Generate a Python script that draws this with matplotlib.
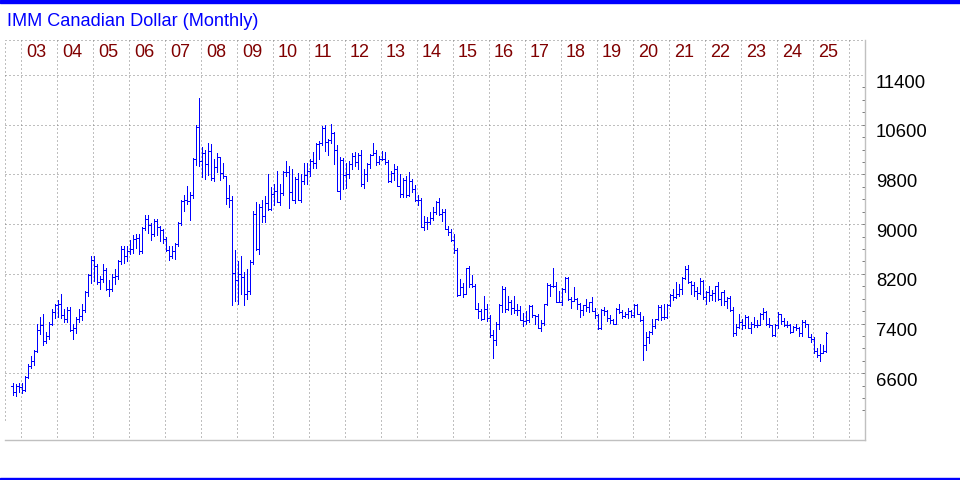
import matplotlib
matplotlib.use("Agg")
import matplotlib.pyplot as plt
from matplotlib.patches import Rectangle
import matplotlib.transforms as mtransforms

plt.rcParams['font.family'] = ['Liberation Sans', 'DejaVu Sans']

title = "IMM Canadian Dollar (Monthly)"
year_labels = ["03", "04", "05", "06", "07", "08", "09", "10", "11", "12", "13", "14",
               "15", "16", "17", "18", "19", "20", "21", "22", "23", "24", "25"]
price_labels = [11400, 10600, 9800, 9000, 8200, 7400, 6600]
first_month = "2002-09"

opens = [
    6400, 6300, 6400, 6370,
    6330, 6540, 6720, 6800, 6960, 7300, 7380, 7120, 7200, 7390, 7580, 7690,
    7720, 7540, 7480, 7620, 7290, 7320, 7470, 7520, 7620, 7900, 8180, 8420,
    8320, 8060, 8110, 8260, 7950, 7950, 8150, 8160, 8400, 8600, 8480, 8570,
    8600, 8760, 8770, 8570, 8940, 9080, 8980, 8840, 9050, 8950, 8900, 8760,
    8580, 8480, 8560, 8680, 9020, 9370, 9390, 9370, 9470, 10050, 10560, 10020,
    10150, 9960, 10180, 9740, 9920, 10080, 9820, 9770, 9420, 9390, 8210, 8100,
    8200, 8150, 7880, 7930, 8390, 9160, 8600, 9280, 9130, 9340, 9240, 9480,
    9540, 9350, 9500, 9840, 9840, 9510, 9390, 9720, 9390, 9700, 9790, 9850,
    10010, 9990, 10290, 10300, 10540, 10320, 10360, 10460, 10190, 9530, 10030, 9790,
    9800, 9970, 10090, 10000, 10110, 9650, 9810, 9960, 10120, 10150, 10000, 10050,
    10040, 10000, 9690, 9820, 9890, 9620, 9480, 9710, 9470, 9690, 9560, 9390,
    9380, 8960, 9030, 9030, 9100, 9200, 9350, 9160, 9190, 8920, 8870, 8740,
    8590, 7860, 7990, 7880, 8290, 8030, 8000, 7640, 7600, 7480, 7640, 7490,
    7210, 7130, 7390, 7700, 7960, 7630, 7740, 7650, 7620, 7620, 7460, 7440,
    7450, 7680, 7530, 7520, 7320, 7410, 7710, 8020, 8010, 8010, 7750, 7750,
    7960, 8130, 7800, 7760, 7800, 7720, 7610, 7690, 7670, 7740, 7600, 7530,
    7330, 7610, 7600, 7490, 7460, 7400, 7640, 7580, 7520, 7550, 7600, 7530,
    7700, 7560, 7460, 7060, 7180, 7260, 7360, 7470, 7670, 7500, 7500, 7700,
    7860, 7820, 7870, 7960, 8140, 8280, 8070, 8020, 7920, 7890, 8080, 7820,
    7900, 7860, 7890, 8000, 7790, 7900, 7770, 7810, 7610, 7240, 7340, 7430,
    7380, 7510, 7330, 7400, 7380, 7370, 7550, 7590, 7400, 7370, 7220, 7370,
    7560, 7440, 7370, 7380, 7270, 7340, 7320, 7250, 7420, 7400, 7190, 7150,
    6960, 6890, 6930, 6960,
]
highs = [
    6440, 6420, 6450, 6440,
    6560, 6750, 6870, 6980, 7400, 7500, 7550, 7260, 7430, 7640, 7720, 7780,
    7880, 7630, 7670, 7660, 7400, 7500, 7640, 7710, 7920, 8200, 8490, 8490,
    8360, 8160, 8350, 8290, 8100, 8190, 8270, 8430, 8640, 8650, 8640, 8740,
    8820, 8840, 8840, 8960, 9140, 9140, 9020, 9080, 9080, 8970, 8920, 8800,
    8650, 8650, 8700, 9040, 9380, 9470, 9620, 9510, 10070, 10600, 11030, 10240,
    10190, 10300, 10290, 10040, 10150, 10080, 9990, 9770, 9630, 9450, 8580, 8410,
    8480, 8230, 8270, 8420, 9210, 9350, 9330, 9380, 9450, 9810, 9600, 9650,
    9860, 9640, 9860, 10020, 9930, 9880, 9760, 9820, 9800, 9990, 9990, 10050,
    10160, 10300, 10340, 10580, 10600, 10370, 10610, 10480, 10270, 10080, 10070, 9990,
    10010, 10150, 10160, 10140, 10190, 9890, 9990, 10130, 10300, 10200, 10100, 10180,
    10160, 10030, 9850, 9970, 9940, 9800, 9740, 9780, 9840, 9730, 9630, 9470,
    9420, 9130, 9110, 9190, 9280, 9370, 9420, 9240, 9250, 8970, 8920, 8840,
    8610, 8120, 8050, 8300, 8330, 8180, 8040, 7730, 7640, 7840, 7710, 7540,
    7300, 7420, 7720, 8010, 7990, 7840, 7780, 7840, 7720, 7680, 7570, 7600,
    7690, 7700, 7540, 7550, 7450, 7720, 8050, 8030, 8300, 8070, 7920, 7970,
    8150, 8150, 7830, 7990, 7810, 7730, 7700, 7800, 7750, 7830, 7650, 7550,
    7630, 7660, 7620, 7530, 7480, 7650, 7720, 7610, 7590, 7650, 7620, 7710,
    7720, 7580, 7520, 7260, 7280, 7480, 7480, 7690, 7700, 7710, 7720, 7880,
    7960, 8060, 8040, 8150, 8330, 8340, 8080, 8060, 7990, 8130, 8100, 7920,
    8000, 7940, 8010, 8060, 7900, 7940, 7820, 7840, 7660, 7400, 7550, 7470,
    7540, 7520, 7420, 7510, 7460, 7570, 7650, 7600, 7490, 7370, 7400, 7580,
    7560, 7490, 7440, 7400, 7360, 7390, 7350, 7450, 7460, 7400, 7230, 7180,
    7000, 7070, 7050, 7270,
]
lows = [
    6250, 6240, 6290, 6280,
    6320, 6520, 6680, 6740, 6940, 7230, 7050, 7080, 7150, 7370, 7490, 7510,
    7490, 7420, 7420, 7280, 7150, 7240, 7430, 7450, 7580, 7850, 8050, 8090,
    8030, 7950, 8070, 7940, 7850, 7930, 8030, 8120, 8350, 8380, 8400, 8520,
    8540, 8620, 8520, 8530, 8910, 8860, 8750, 8810, 8830, 8720, 8690, 8570,
    8430, 8450, 8440, 8650, 8990, 9210, 9320, 9060, 9420, 9950, 9930, 9760,
    9730, 9790, 9710, 9700, 9840, 9710, 9740, 9330, 9280, 7700, 7760, 7720,
    7880, 7700, 7800, 7870, 8350, 8590, 8520, 9040, 9040, 9230, 9230, 9300,
    9350, 9300, 9470, 9780, 9260, 9380, 9340, 9390, 9350, 9640, 9650, 9770,
    9910, 9900, 10050, 10270, 10170, 10120, 10300, 9960, 9530, 9410, 9570, 9580,
    9750, 9890, 9940, 9880, 9620, 9580, 9700, 9910, 10110, 9950, 9970, 10030,
    9970, 9670, 9680, 9710, 9630, 9440, 9440, 9440, 9450, 9520, 9370, 9300,
    8960, 8910, 8920, 9000, 9060, 9170, 9150, 9050, 8920, 8820, 8720, 8540,
    7840, 7860, 7820, 7880, 7990, 7990, 7640, 7490, 7450, 7480, 7440, 7180,
    6850, 7050, 7310, 7590, 7580, 7620, 7550, 7570, 7530, 7450, 7360, 7400,
    7430, 7500, 7400, 7320, 7280, 7370, 7700, 7850, 7990, 7750, 7760, 7700,
    7900, 7780, 7650, 7760, 7630, 7500, 7530, 7600, 7580, 7600, 7490, 7310,
    7310, 7530, 7440, 7410, 7390, 7390, 7570, 7490, 7500, 7490, 7510, 7510,
    7550, 7440, 6820, 6980, 7080, 7230, 7320, 7450, 7450, 7480, 7490, 7680,
    7780, 7810, 7850, 7880, 8120, 8050, 7880, 7840, 7800, 7880, 7800, 7720,
    7770, 7780, 7770, 7780, 7690, 7700, 7650, 7600, 7200, 7210, 7330, 7310,
    7330, 7330, 7240, 7340, 7340, 7370, 7480, 7370, 7350, 7200, 7200, 7330,
    7390, 7360, 7340, 7240, 7270, 7290, 7200, 7200, 7340, 7190, 7100, 6920,
    6860, 6790, 6930, 6940,
]
closes = [
    6300, 6400, 6370, 6330,
    6540, 6720, 6800, 6960, 7300, 7380, 7120, 7200, 7390, 7580, 7690, 7720,
    7540, 7480, 7620, 7290, 7320, 7470, 7520, 7620, 7900, 8180, 8420, 8320,
    8060, 8110, 8260, 7950, 7950, 8150, 8160, 8400, 8600, 8480, 8570, 8600,
    8760, 8770, 8570, 8940, 9080, 8980, 8840, 9050, 8950, 8900, 8760, 8580,
    8480, 8560, 8680, 9020, 9370, 9390, 9370, 9470, 10050, 10560, 10020, 10150,
    9960, 10180, 9740, 9920, 10080, 9820, 9770, 9420, 9390, 8210, 8100, 8200,
    8150, 7880, 7930, 8390, 9160, 8600, 9280, 9130, 9340, 9240, 9480, 9540,
    9350, 9500, 9840, 9840, 9510, 9390, 9720, 9390, 9700, 9790, 9850, 10010,
    9990, 10290, 10300, 10540, 10320, 10360, 10460, 10190, 9530, 10030, 9790, 9800,
    9970, 10090, 10000, 10110, 9650, 9810, 9960, 10120, 10150, 10000, 10050, 10040,
    10000, 9690, 9820, 9890, 9620, 9480, 9710, 9470, 9690, 9560, 9390, 9380,
    8960, 9030, 9030, 9100, 9200, 9350, 9160, 9190, 8920, 8870, 8740, 8590,
    7860, 7990, 7880, 8290, 8030, 8000, 7640, 7600, 7480, 7640, 7490, 7210,
    7130, 7390, 7700, 7960, 7630, 7740, 7650, 7620, 7620, 7460, 7440, 7450,
    7680, 7530, 7520, 7320, 7410, 7710, 8020, 8010, 8010, 7750, 7750, 7960,
    8130, 7800, 7760, 7800, 7720, 7610, 7690, 7670, 7740, 7600, 7530, 7330,
    7610, 7600, 7490, 7460, 7400, 7640, 7580, 7520, 7550, 7600, 7530, 7700,
    7560, 7460, 7060, 7180, 7260, 7360, 7470, 7670, 7500, 7500, 7700, 7860,
    7820, 7870, 7960, 8140, 8280, 8070, 8020, 7920, 7890, 8080, 7820, 7900,
    7860, 7890, 8000, 7790, 7900, 7770, 7810, 7610, 7240, 7340, 7430, 7380,
    7510, 7330, 7400, 7380, 7370, 7550, 7590, 7400, 7370, 7220, 7370, 7560,
    7440, 7370, 7380, 7270, 7340, 7320, 7250, 7420, 7400, 7190, 7150, 6960,
    6890, 6930, 6960, 7250,
]

# ---------------- layout (pixels on a 960x480 canvas) ----------------
W, H = 960, 480
fig = plt.figure(figsize=(9.6, 4.8), dpi=100)
fig.patch.set_facecolor("white")

ax_l, ax_r, ax_t, ax_b = 5, 865, 40, 440
ax = fig.add_axes([ax_l / W, (H - ax_b) / H, (ax_r - ax_l) / W, (ax_b - ax_t) / H])
ax.set_facecolor("white")

n = len(closes)
xs = list(range(n))

# x: bar i at pixel 12.3 + 3*i ; y: 11400 at pixel 75, 800 per 49.7 px
px_per_bar = 3.0
x0_pix = 12.5
ax.set_xlim((ax_l - x0_pix) / px_per_bar, (ax_r - x0_pix) / px_per_bar)
upp = 800 / 49.7
ax.set_ylim(11400 - (ax_b - 75) * upp, 11400 + (75 - ax_t) * upp)

blue = "#0000FF"
tick = 0.34
blw = 0.62
ax.vlines(xs, lows, highs, colors=blue, linewidth=blw, antialiased=False, snap=True, zorder=3)
ax.hlines(opens, [x - tick for x in xs], xs, colors=blue, linewidth=blw, antialiased=False, snap=True, zorder=3)
ax.hlines(closes, xs, [x + tick for x in xs], colors=blue, linewidth=blw, antialiased=False, snap=True, zorder=3)

dot = (0, (1, 3))
gcol = "#808080"
lw = 0.72

# horizontal grid lines
for v in price_labels:
    ax.plot([0, (862 - ax_l) / (ax_r - ax_l)], [v, v], color=gcol, linestyle=dot, linewidth=lw,
            transform=ax.get_yaxis_transform(), zorder=1)

# vertical year grid lines + year labels
trans_xa = ax.get_xaxis_transform()
n_years = len(year_labels) + 1
for k in range(n_years):
    gx = (21 + 36 * k - x0_pix) / px_per_bar
    ax.plot([gx, gx], [(ax_b - 437) / (ax_b - ax_t), 1], color=gcol, linestyle=dot, linewidth=lw,
            transform=trans_xa, zorder=1, clip_on=False)
    if k < len(year_labels):
        ax.text(gx + 5 / px_per_bar, (ax_b - 53) / (ax_b - ax_t), year_labels[k], transform=trans_xa,
                ha="left", va="center", fontsize=13, color="#800000")

# frame: dotted top and left, solid gray bottom/right
ax.plot([0, 1], [1, 1], color=gcol, linestyle=dot, linewidth=lw, transform=ax.transAxes, clip_on=False)
ax.plot([0, 0], [(ax_b - 420) / (ax_b - ax_t), 1], color=gcol, linestyle=dot, linewidth=lw,
        transform=ax.transAxes, clip_on=False)
for s in ["top", "left"]:
    ax.spines[s].set_visible(False)
for s in ["bottom", "right"]:
    ax.spines[s].set_color("#C0C0C0")
    ax.spines[s].set_linewidth(1.0)

ax.set_xticks([])
ax.yaxis.tick_right()
ax.set_yticks(list(range(6000, 11201, 200)))
ax.tick_params(axis="y", direction="in", length=2.2, width=0.72, color="#808080", labelright=False)

# price labels on the right
lab_trans = mtransforms.offset_copy(ax.get_yaxis_transform(), fig=fig, x=11, y=-8, units="dots")
for v in price_labels:
    ax.text(1.0, v, str(v), transform=lab_trans, ha="left", va="center", fontsize=13.3, color="black")

# title and blue bands
fig.text(7 / W, 1 - 21 / H, title, ha="left", va="center", fontsize=13.1, color=blue)
fig.patches.append(Rectangle((0, 1 - 3 / H), 1, 3 / H, transform=fig.transFigure, color=blue, zorder=5))
fig.patches.append(Rectangle((0, 0), 1, 2.5 / H, transform=fig.transFigure, color=blue, zorder=5))

fig.savefig("out.png", dpi=100)
